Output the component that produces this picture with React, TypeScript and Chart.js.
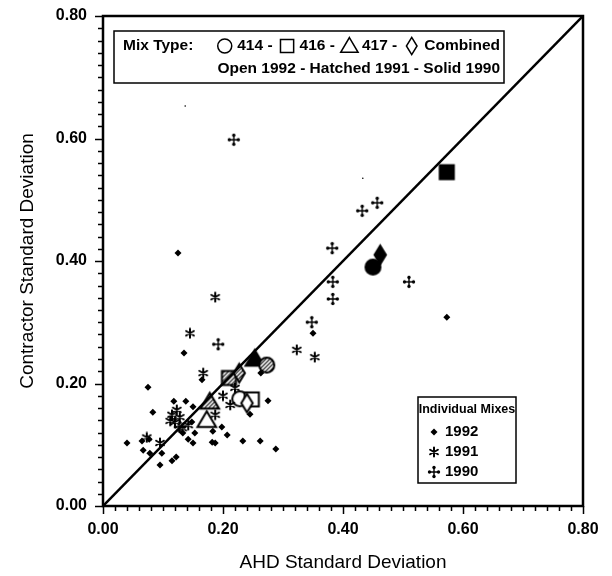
import React, { useEffect, useRef } from 'react';
import { Chart, registerables } from 'chart.js';

Chart.register(...registerables);

// ---- Data ----
const axisTickValues = [0, 0.2, 0.4, 0.6, 0.8];
const mixShapes = ['circle', 'square', 'triangle', 'diamond'];

// Mix types (circle=414, square=416, triangle=417, diamond=Combined)
const solid1990X = [0.45, 0.573, 0.253, 0.462];
const solid1990Y = [0.39, 0.545, 0.24, 0.41];
const hatched1991X = [0.273, 0.21, 0.178, 0.227];
const hatched1991Y = [0.23, 0.209, 0.17, 0.217];
const open1992X = [0.228, 0.248, 0.173, 0.24];
const open1992Y = [0.175, 0.174, 0.14, 0.168];

// Individual mixes
const indiv1992X = [0.125, 0.135, 0.165, 0.075, 0.118, 0.138, 0.083, 0.153, 0.133, 0.04, 0.065, 0.077, 0.067, 0.078, 0.098, 0.095, 0.115, 0.122, 0.15, 0.142, 0.183, 0.198, 0.207, 0.182, 0.187, 0.233, 0.262, 0.288, 0.245, 0.275, 0.35, 0.573, 0.263, 0.15, 0.148];
const indiv1992Y = [0.413, 0.25, 0.206, 0.194, 0.171, 0.171, 0.153, 0.119, 0.119, 0.103, 0.106, 0.109, 0.091, 0.086, 0.086, 0.067, 0.074, 0.08, 0.103, 0.109, 0.122, 0.129, 0.116, 0.104, 0.103, 0.106, 0.106, 0.093, 0.15, 0.172, 0.282, 0.308, 0.217, 0.162, 0.137];
const indiv1991X = [0.187, 0.145, 0.167, 0.323, 0.353, 0.123, 0.115, 0.128, 0.12, 0.112, 0.073, 0.095, 0.132, 0.142, 0.187, 0.212, 0.22, 0.2];
const indiv1991Y = [0.341, 0.282, 0.217, 0.255, 0.243, 0.157, 0.149, 0.145, 0.137, 0.139, 0.112, 0.103, 0.127, 0.132, 0.149, 0.165, 0.193, 0.18];
const indiv1990X = [0.218, 0.432, 0.457, 0.382, 0.383, 0.383, 0.348, 0.51, 0.192, 0.128];
const indiv1990Y = [0.598, 0.482, 0.495, 0.421, 0.366, 0.338, 0.3, 0.366, 0.264, 0.129];
const speckX = [0.137, 0.433];
const speckY = [0.653, 0.535];

const equalityLine = [0, 0.8];

const FONT = '"Liberation Sans", Arial, Helvetica, sans-serif';

function pairs(xs: number[], ys: number[]) {
  return xs.map((x, i) => ({ x, y: ys[i] }));
}

function hatchPattern(g: CanvasRenderingContext2D) {
  const c = document.createElement('canvas');
  c.width = 4;
  c.height = 4;
  const h = c.getContext('2d')!;
  h.fillStyle = '#fff';
  h.fillRect(0, 0, 4, 4);
  h.strokeStyle = '#000';
  h.lineWidth = 1.1;
  h.beginPath();
  h.moveTo(0, 4); h.lineTo(4, 0);
  h.moveTo(-1, 1); h.lineTo(1, -1);
  h.moveTo(3, 5); h.lineTo(5, 3);
  h.stroke();
  return g.createPattern(c, 'repeat')!;
}

function shapePath(g: CanvasRenderingContext2D, shape: string, cx: number, cy: number, s: number) {
  g.beginPath();
  if (shape === 'circle') {
    g.arc(cx, cy, s * 0.5, 0, Math.PI * 2);
  } else if (shape === 'square') {
    g.rect(cx - s * 0.47, cy - s * 0.47, s * 0.94, s * 0.94);
  } else if (shape === 'triangle') {
    g.moveTo(cx, cy - s * 0.6);
    g.lineTo(cx + s * 0.62, cy + s * 0.45);
    g.lineTo(cx - s * 0.62, cy + s * 0.45);
    g.closePath();
  } else {
    g.moveTo(cx, cy - s * 0.62);
    g.lineTo(cx + s * 0.38, cy);
    g.lineTo(cx, cy + s * 0.62);
    g.lineTo(cx - s * 0.38, cy);
    g.closePath();
  }
}

function makeSymbol(shape: string, fill: string, s = 15) {
  const size = Math.ceil(s * 1.5) + 4;
  const c = document.createElement('canvas');
  c.width = size;
  c.height = size;
  const g = c.getContext('2d')!;
  shapePath(g, shape, size / 2, size / 2, s);
  g.fillStyle = fill === 'solid' ? '#000' : fill === 'hatch' ? hatchPattern(g) : '#fff';
  g.fill();
  g.lineWidth = 2;
  g.strokeStyle = '#000';
  g.stroke();
  return c;
}

function makeAsterisk() {
  const size = 12;
  const c = document.createElement('canvas');
  c.width = size; c.height = size;
  const g = c.getContext('2d')!;
  g.strokeStyle = '#000';
  g.lineWidth = 2;
  g.lineCap = 'round';
  const r = 4.5;
  g.beginPath();
  [90, 30, 150].forEach((a) => {
    const rad = (a * Math.PI) / 180;
    g.moveTo(6 - r * Math.cos(rad), 6 - r * Math.sin(rad));
    g.lineTo(6 + r * Math.cos(rad), 6 + r * Math.sin(rad));
  });
  g.stroke();
  return c;
}

function drawPlus(g: CanvasRenderingContext2D, cx: number, cy: number) {
  g.save();
  g.strokeStyle = '#000';
  g.fillStyle = '#000';
  g.lineWidth = 1.4;
  g.beginPath();
  g.moveTo(cx - 5, cy); g.lineTo(cx + 5, cy);
  g.moveTo(cx, cy - 5); g.lineTo(cx, cy + 5);
  g.stroke();
  [[4.5, 0], [-4.5, 0], [0, 4.5], [0, -4.5]].forEach(([dx, dy]) => {
    g.beginPath();
    g.arc(cx + dx, cy + dy, 1.7, 0, Math.PI * 2);
    g.fill();
  });
  g.restore();
}

function makePlus() {
  const c = document.createElement('canvas');
  c.width = 14; c.height = 14;
  drawPlus(c.getContext('2d')!, 7, 7);
  return c;
}

function drawAsteriskAt(g: CanvasRenderingContext2D, img: HTMLCanvasElement, cx: number, cy: number) {
  g.drawImage(img, cx - img.width / 2, cy - img.height / 2);
}

function drawDiamondDot(g: CanvasRenderingContext2D, cx: number, cy: number, r: number) {
  g.beginPath();
  g.moveTo(cx, cy - r); g.lineTo(cx + r, cy); g.lineTo(cx, cy + r); g.lineTo(cx - r, cy);
  g.closePath();
  g.fillStyle = '#000';
  g.fill();
}

export default function App() {
  const ref = useRef<HTMLCanvasElement>(null);

  useEffect(() => {
    const canvas = ref.current!;
    const asterisk = makeAsterisk();
    const plus = makePlus();
    const solidSyms = mixShapes.map((s) => makeSymbol(s, 'solid'));
    const hatchSyms = mixShapes.map((s) => makeSymbol(s, 'hatch'));
    const openSyms = mixShapes.map((s) => makeSymbol(s, 'open'));

    const framePlugin = {
      id: 'framePlugin',
      afterDraw(chart: any) {
        const { ctx, chartArea: a, scales } = chart;
        const xs = scales.x;
        const ys = scales.y;
        ctx.save();
        ctx.strokeStyle = '#000';
        ctx.lineWidth = 2.5;
        ctx.strokeRect(a.left, a.top, a.right - a.left, a.bottom - a.top);
        ctx.lineWidth = 1.5;
        ctx.beginPath();
        for (let i = 0; i <= 40; i++) {
          const v = i * 0.02;
          const len = i % 10 === 0 ? 8 : 5;
          const px = Math.round(xs.getPixelForValue(v)) + 0.5;
          ctx.moveTo(px, a.bottom);
          ctx.lineTo(px, a.bottom + len);
          const py = Math.round(ys.getPixelForValue(v)) + 0.5;
          ctx.moveTo(a.left, py);
          ctx.lineTo(a.left - len, py);
        }
        ctx.stroke();

        // Mix type legend box
        const bx = 114, by = 31, bw = 390, bh = 52;
        ctx.fillStyle = '#fff';
        ctx.fillRect(bx, by, bw, bh);
        ctx.lineWidth = 1.5;
        ctx.strokeRect(bx, by, bw, bh);
        ctx.fillStyle = '#000';
        ctx.font = `bold 15.5px ${FONT}`;
        ctx.textBaseline = 'middle';
        ctx.textAlign = 'left';
        const y1 = by + 15, y2 = by + 38;
        ctx.fillText('Mix Type:', bx + 9, y1);
        const segs: Array<[string, string]> = [
          ['circle', '414 -'],
          ['square', '416 -'],
          ['triangle', '417 -'],
          ['diamond', 'Combined'],
        ];
        const symW = 15, gap1 = 5, gap2 = 7;
        let total = 0;
        segs.forEach(([, t], i) => {
          total += symW + gap1 + ctx.measureText(t).width + (i < segs.length - 1 ? gap2 : 0);
        });
        let cx = bx + bw - 4 - total;
        segs.forEach(([shape, t]) => {
          ctx.save();
          shapePath(ctx, shape, cx + symW / 2, y1, 14);
          ctx.fillStyle = '#fff';
          ctx.fill();
          ctx.lineWidth = 1.5;
          ctx.strokeStyle = '#000';
          ctx.stroke();
          ctx.restore();
          cx += symW + gap1;
          ctx.fillStyle = '#000';
          ctx.fillText(t, cx, y1);
          cx += ctx.measureText(t).width + gap2;
        });
        ctx.textAlign = 'right';
        ctx.fillText('Open 1992 - Hatched 1991 - Solid 1990', bx + bw - 4, y2);

        // Individual mixes legend box
        const lx = 418, ly = 397, lw = 98, lh = 86;
        ctx.fillStyle = '#fff';
        ctx.fillRect(lx, ly, lw, lh);
        ctx.strokeRect(lx, ly, lw, lh);
        ctx.fillStyle = '#000';
        ctx.textAlign = 'center';
        ctx.font = `bold 12.5px ${FONT}`;
        ctx.fillText('Individual Mixes', lx + lw / 2, ly + 13);
        ctx.textAlign = 'left';
        ctx.font = `bold 15px ${FONT}`;
        const rows = ['1992', '1991', '1990'];
        rows.forEach((t, i) => {
          const ry = ly + 35 + i * 20;
          const sx = lx + 16;
          if (i === 0) drawDiamondDot(ctx, sx, ry, 3.5);
          else if (i === 1) drawAsteriskAt(ctx, asterisk, sx, ry);
          else drawPlus(ctx, sx, ry);
          ctx.fillText(t, lx + 27, ry);
        });
        ctx.restore();
      },
    };

    const chart = new Chart(canvas, {
      type: 'scatter',
      data: {
        datasets: [
          {
            data: equalityLine.map((v) => ({ x: v, y: v })),
            showLine: true,
            borderColor: '#000',
            borderWidth: 2.5,
            pointRadius: 0,
          },
          {
            data: pairs(speckX, speckY),
            pointStyle: 'circle',
            pointRadius: 0.8,
            backgroundColor: '#000',
            borderWidth: 0,
          },
          {
            data: pairs(indiv1992X, indiv1992Y),
            pointStyle: 'rectRot',
            pointRadius: 3.5,
            backgroundColor: '#000',
            borderColor: '#000',
            borderWidth: 0,
          },
          {
            data: pairs(indiv1991X, indiv1991Y),
            pointStyle: asterisk as any,
          },
          {
            data: pairs(indiv1990X, indiv1990Y),
            pointStyle: plus as any,
          },
          {
            data: pairs(open1992X, open1992Y),
            pointStyle: openSyms as any,
          },
          {
            data: pairs(hatched1991X, hatched1991Y),
            pointStyle: hatchSyms as any,
          },
          {
            data: pairs(solid1990X, solid1990Y),
            pointStyle: solidSyms as any,
          },
        ],
      },
      options: {
        animation: false,
        responsive: false,
        events: [],
        layout: { padding: { top: 16, right: 29, left: 0, bottom: 0 } },
        plugins: { legend: { display: false }, tooltip: { enabled: false } },
        scales: {
          x: {
            type: 'linear',
            min: 0,
            max: 0.8,
            afterFit: (s: any) => { s.height = 70; s.paddingLeft = 0; s.paddingRight = 0; },
            grid: { display: false, drawTicks: false },
            border: { display: false },
            ticks: {
              stepSize: 0.2,
              padding: 14,
              color: '#000',
              font: { family: FONT, size: 16, weight: 'bold' },
              callback: (v: any) => Number(v).toFixed(2),
            },
            afterBuildTicks: (s: any) => { s.ticks = axisTickValues.map((v) => ({ value: v })); },
            title: {
              display: true,
              text: 'AHD Standard Deviation',
              color: '#000',
              font: { family: FONT, size: 19 },
              padding: { top: 0, bottom: 2 },
            },
          },
          y: {
            type: 'linear',
            min: 0,
            max: 0.8,
            afterFit: (s: any) => { s.width = 103; s.paddingTop = 0; s.paddingBottom = 0; },
            grid: { display: false, drawTicks: false },
            border: { display: false },
            ticks: {
              stepSize: 0.2,
              padding: 16,
              color: '#000',
              font: { family: FONT, size: 16, weight: 'bold' },
              callback: (v: any) => Number(v).toFixed(2),
            },
            afterBuildTicks: (s: any) => { s.ticks = axisTickValues.map((v) => ({ value: v })); },
            title: {
              display: true,
              text: 'Contractor Standard Deviation',
              color: '#000',
              font: { family: FONT, size: 19 },
              padding: { top: 16, bottom: 0 },
            },
          },
        },
      },
      plugins: [framePlugin],
    } as any);

    return () => chart.destroy();
  }, []);

  return (
    <div style={{ position: 'fixed', left: 0, top: 0, width: 612, height: 576, background: '#fff' }}>
      <canvas ref={ref} width={612} height={576} style={{ width: 612, height: 576, display: 'block' }} />
    </div>
  );
}
